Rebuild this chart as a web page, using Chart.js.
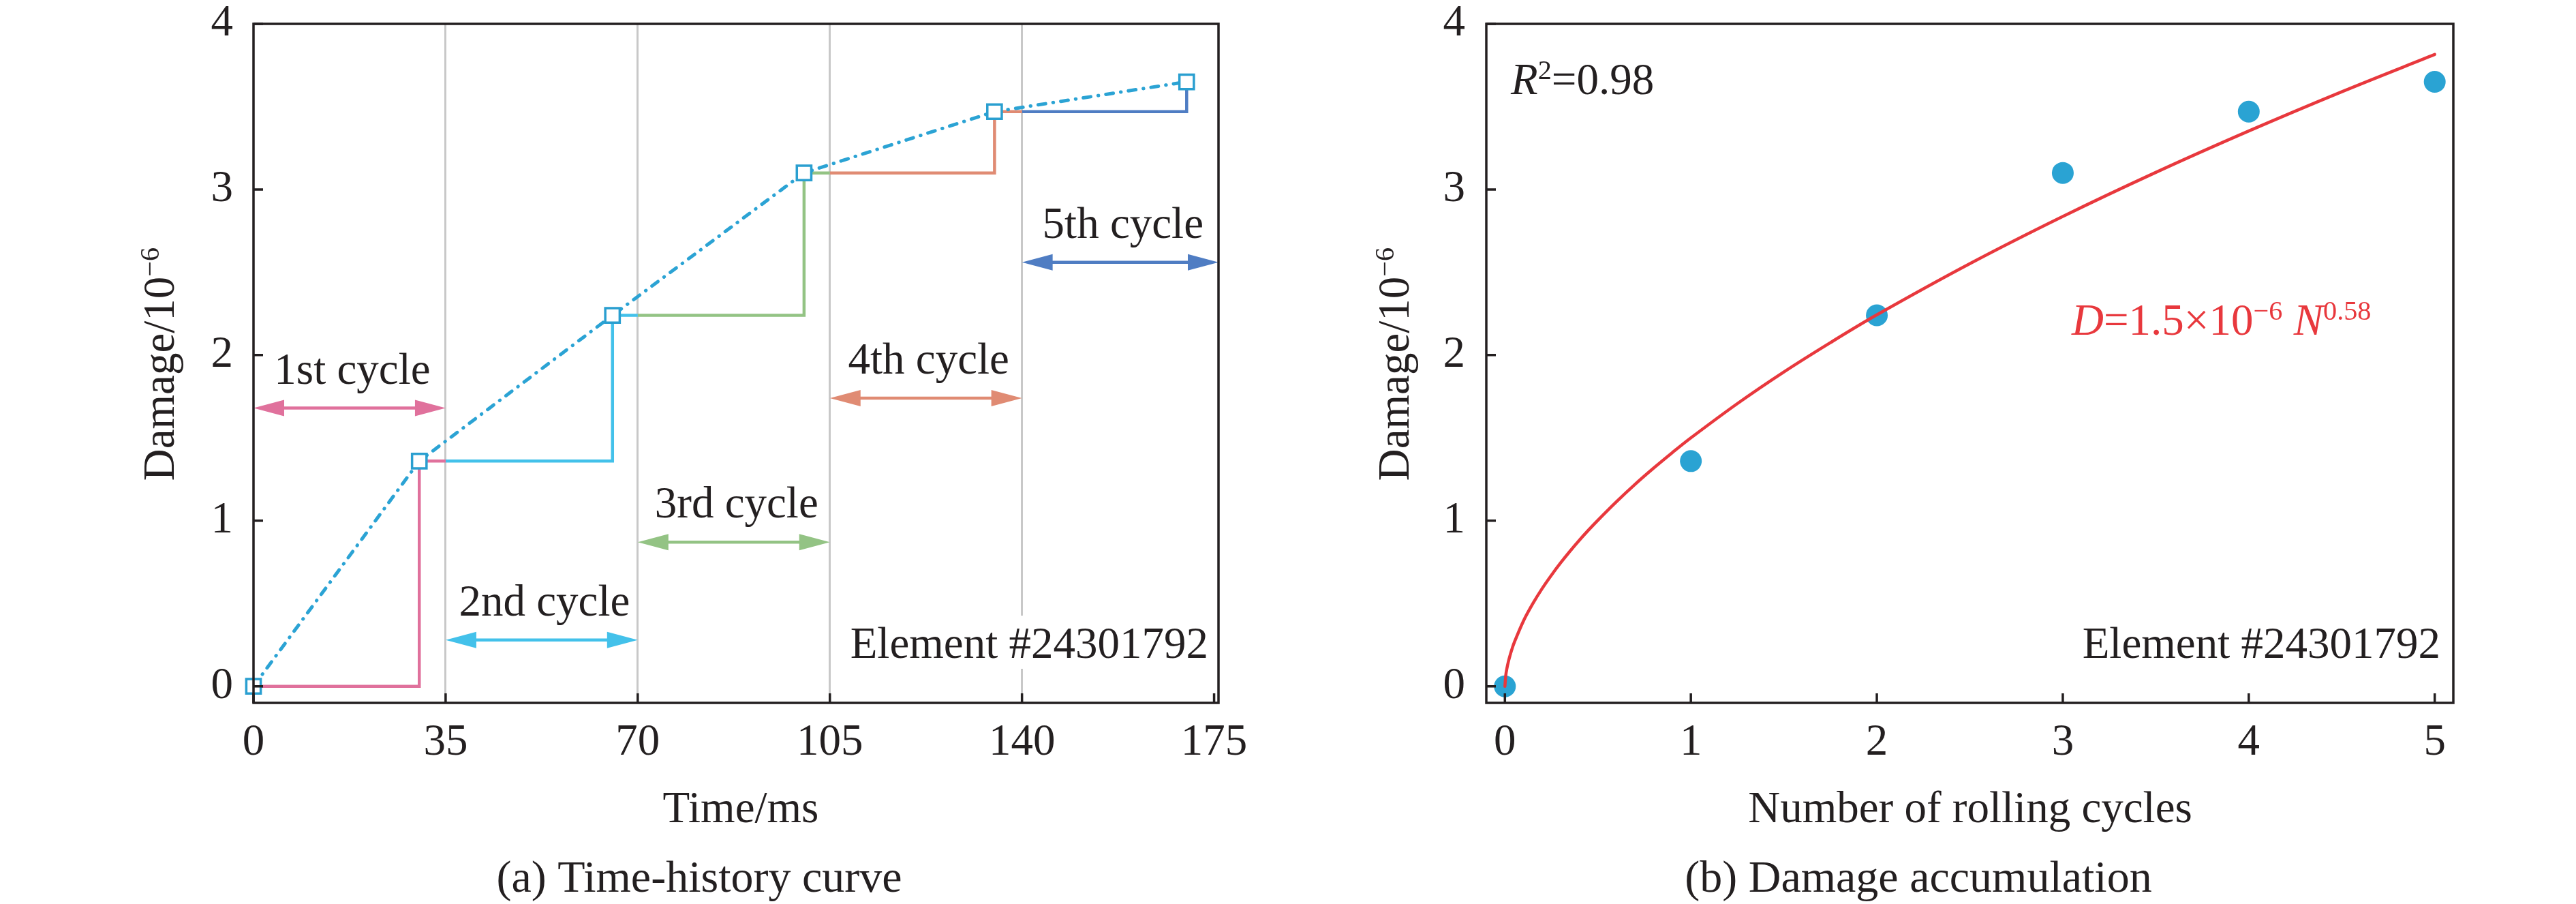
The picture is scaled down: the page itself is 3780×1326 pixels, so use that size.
<!DOCTYPE html>
<html>
<head>
<meta charset="utf-8">
<script src="https://cdn.jsdelivr.net/npm/chart.js@4.4.1/dist/chart.umd.min.js"></script>
<style>
  html, body { margin: 0; padding: 0; background: #fff; }
  #wrap { position: relative; width: 3780px; height: 1326px; background: #fff; }
  canvas { position: absolute; top: 0; }
  #chartA { left: 0; }
  #chartB { left: 1890px; }
</style>
</head>
<body>
<div id="wrap">
  <canvas id="chartA" width="1890" height="1326"></canvas>
  <canvas id="chartB" width="1890" height="1326"></canvas>
</div>
<script>
// --- values ---
// (a) time-history curve
const timeTicks = [0, 35, 70, 105, 140, 175];
const damageTicks = [0, 1, 2, 3, 4];
const cycleStart = [0, 35, 70, 105, 140];
const cycleEnd = [35, 70, 105, 140, 175.8];
const cycleBounds = [35, 70, 105, 140];
const markerTime = [0, 30.2, 65.4, 100.3, 135.0, 170.0];
const damage = [0, 1.36, 2.24, 3.10, 3.47, 3.65];
const cycleNames = ["1st cycle", "2nd cycle", "3rd cycle", "4th cycle", "5th cycle"];
const arrowY = [1.68, 0.28, 0.87, 1.74, 2.56];
const cycleColors = ["#e0719c", "#43c1ea", "#93c384", "#e08b73", "#4f7dc3"];

// (b) damage accumulation
const cycleNo = [0, 1, 2, 3, 4, 5];
const cycleTicks = [0, 1, 2, 3, 4, 5];
const fitN = [0, 0.005, 0.01, 0.02, 0.03, 0.04, 0.05, 0.1, 0.15, 0.2, 0.25, 0.3, 0.35, 0.4, 0.45, 0.5,
              0.6, 0.7, 0.8, 0.9, 1, 1.25, 1.5, 1.75, 2, 2.5, 3, 3.5, 4, 4.5, 5];
const fitD = [0, 0.069, 0.104, 0.155, 0.196, 0.232, 0.264, 0.395, 0.499, 0.590, 0.671, 0.746, 0.816, 0.882, 0.944, 1.003,
              1.115, 1.220, 1.318, 1.411, 1.500, 1.707, 1.898, 2.075, 2.243, 2.552, 2.837, 3.103, 3.353, 3.590, 3.815];

const TXT = "#231f20";
const FAM = "'Liberation Serif', 'Times New Roman', serif";
const RED = "#e8383d";

Chart.defaults.font.family = FAM;
Chart.defaults.font.size = 65;
Chart.defaults.color = TXT;

function font(size, italic) {
  return (italic ? "italic " : "") + size + "px " + FAM;
}

// text with italic / superscript pieces, y = baseline
function drawRich(ctx, parts, x, y, size, align, color) {
  let w = 0;
  parts.forEach(p => {
    ctx.font = font(p.sup ? size * 0.62 : size, p.it);
    w += ctx.measureText(p.t).width;
  });
  let cx = align === "center" ? x - w / 2 : align === "right" ? x - w : x;
  ctx.fillStyle = color;
  ctx.textAlign = "left";
  ctx.textBaseline = "alphabetic";
  parts.forEach(p => {
    ctx.font = font(p.sup ? size * 0.62 : size, p.it);
    ctx.fillText(p.t, cx, p.sup ? y - size * 0.34 : y);
    cx += ctx.measureText(p.t).width;
  });
  return w;
}

function yTitle(ctx, x, y) {
  ctx.save();
  ctx.translate(x, y);
  ctx.rotate(-Math.PI / 2);
  drawRich(ctx, [{ t: "Damage/10" }, { t: "\u22126", sup: true }], 0, 0, 65, "center", TXT);
  ctx.restore();
}

function frameAndTicks(chart) {
  const { ctx, chartArea: a, scales: { x, y } } = chart;
  ctx.save();
  ctx.strokeStyle = TXT;
  ctx.lineWidth = 3.5;
  ctx.strokeRect(a.left, a.top, a.right - a.left, a.bottom - a.top);
  ctx.beginPath();
  x.ticks.forEach(t => {
    const px = x.getPixelForValue(t.value);
    ctx.moveTo(px, a.bottom); ctx.lineTo(px, a.bottom - 14);
  });
  y.ticks.forEach(t => {
    const py = y.getPixelForValue(t.value);
    ctx.moveTo(a.left, py); ctx.lineTo(a.left + 14, py);
  });
  ctx.stroke();
  ctx.restore();
}

function elementLabel(ctx, a, gap) {
  ctx.save();
  ctx.font = font(65);
  const txt = "Element #24301792";
  const w = ctx.measureText(txt).width;
  const xr = a.right - gap, yb = a.bottom - 66;
  ctx.fillStyle = "#fff";
  ctx.fillRect(xr - w - 8, yb - 62, w + 12, 78);
  ctx.fillStyle = TXT;
  ctx.textAlign = "right";
  ctx.textBaseline = "alphabetic";
  ctx.fillText(txt, xr, yb);
  ctx.restore();
}

function arrow(ctx, x1, x2, y, color) {
  const hl = 45, hw = 12;
  ctx.strokeStyle = color;
  ctx.fillStyle = color;
  ctx.lineWidth = 4.5;
  ctx.beginPath(); ctx.moveTo(x1 + hl - 2, y); ctx.lineTo(x2 - hl + 2, y); ctx.stroke();
  ctx.beginPath(); ctx.moveTo(x1, y); ctx.lineTo(x1 + hl, y - hw); ctx.lineTo(x1 + hl, y + hw); ctx.closePath(); ctx.fill();
  ctx.beginPath(); ctx.moveTo(x2, y); ctx.lineTo(x2 - hl, y - hw); ctx.lineTo(x2 - hl, y + hw); ctx.closePath(); ctx.fill();
}

function fixedScales(yWidth, xHeight) {
  return {
    x: {
      afterFit(s) { s.height = xHeight; s.paddingLeft = 0; s.paddingRight = 0; }
    },
    y: {
      afterFit(s) { s.width = yWidth; s.paddingTop = 0; s.paddingBottom = 0; }
    }
  };
}

// --- (a) Time-history curve ---
const stepSets = cycleStart.map((s, i) => {
  const pts = [
    { x: s, y: damage[i] },
    { x: markerTime[i + 1], y: damage[i] },
    { x: markerTime[i + 1], y: damage[i + 1] }
  ];
  if (i < cycleBounds.length) pts.push({ x: cycleBounds[i], y: damage[i + 1] });
  return {
    data: pts, showLine: true, borderColor: cycleColors[i], borderWidth: 4.5,
    pointRadius: 0, tension: 0, order: 2, clip: false
  };
});

const fitA = fixedScales(372, 295);

const pluginA = {
  id: "decorA",
  afterDatasetsDraw(chart) {
    const { ctx, chartArea: a, scales: { x, y } } = chart;
    ctx.save();
    cycleNames.forEach((name, i) => {
      const x1 = x.getPixelForValue(cycleStart[i]);
      const x2 = x.getPixelForValue(cycleEnd[i]);
      const py = y.getPixelForValue(arrowY[i]);
      arrow(ctx, x1, x2, py, cycleColors[i]);
      ctx.font = font(65);
      ctx.fillStyle = TXT;
      ctx.textAlign = "center";
      ctx.textBaseline = "alphabetic";
      ctx.fillText(name, (x1 + x2) / 2 + 4, py - 36);
    });
    ctx.restore();
    elementLabel(ctx, a, 15);
  },
  afterDraw(chart) {
    const { ctx } = chart;
    frameAndTicks(chart);
    ctx.save();
    drawRich(ctx, [{ t: "Time/ms" }], 1087, 1206, 65, "center", TXT);
    drawRich(ctx, [{ t: "(a) Time-history curve" }], 1026, 1308, 66, "center", TXT);
    yTitle(ctx, 255, 534);
    ctx.restore();
  }
};

new Chart(document.getElementById("chartA"), {
  type: "scatter",
  data: {
    datasets: [
      {
        data: markerTime.map((t, i) => ({ x: t, y: damage[i] })),
        showLine: true,
        borderColor: "#2ba3d4",
        borderWidth: 5,
        borderDash: [11, 11, 0.5, 11],
        borderCapStyle: "round",
        pointStyle: "rect",
        pointRadius: 15,
        pointBorderWidth: 3.5,
        pointBackgroundColor: "#ffffff",
        pointBorderColor: "#2a9fd0",
        tension: 0,
        order: 1,
        clip: false
      },
      ...stepSets
    ]
  },
  options: {
    responsive: false,
    animation: false,
    devicePixelRatio: 1,
    events: [],
    layout: { padding: { left: 0, top: 35, right: 102, bottom: 0 } },
    plugins: { legend: { display: false }, tooltip: { enabled: false } },
    scales: {
      x: {
        type: "linear", min: 0, max: 175.8,
        afterBuildTicks(s) { s.ticks = timeTicks.map(v => ({ value: v })); },
        afterFit: fitA.x.afterFit,
        border: { display: false },
        grid: {
          drawTicks: false,
          lineWidth: 3,
          color: c => (c.tick && cycleBounds.includes(c.tick.value)) ? "#c8c8c8" : "rgba(0,0,0,0)"
        },
        ticks: { padding: 20, color: TXT, maxRotation: 0 }
      },
      y: {
        type: "linear", min: -0.1, max: 4,
        afterBuildTicks(s) { s.ticks = damageTicks.map(v => ({ value: v })); },
        afterFit: fitA.y.afterFit,
        border: { display: false },
        grid: { display: false, drawTicks: false },
        ticks: { padding: 30, color: TXT }
      }
    }
  },
  plugins: [pluginA]
});

// --- (b) Damage accumulation ---
const fitB = fixedScales(291, 295);

const pluginB = {
  id: "decorB",
  afterDatasetsDraw(chart) {
    const { ctx, chartArea: a } = chart;
    ctx.save();
    drawRich(ctx, [{ t: "R", it: true }, { t: "2", sup: true }, { t: "=0.98" }], a.left + 36, a.top + 103, 65, "left", TXT);
    drawRich(ctx, [
      { t: "D", it: true }, { t: "=1.5\u00d710" }, { t: "\u22126", sup: true },
      { t: " " }, { t: "N", it: true }, { t: "0.58", sup: true }
    ], a.left + 859, a.top + 456, 65, "left", RED);
    ctx.restore();
    elementLabel(ctx, a, 19);
  },
  afterDraw(chart) {
    const { ctx } = chart;
    frameAndTicks(chart);
    ctx.save();
    drawRich(ctx, [{ t: "Number of rolling cycles" }], 1001, 1206, 65, "center", TXT);
    drawRich(ctx, [{ t: "(b) Damage accumulation" }], 925, 1308, 66, "center", TXT);
    yTitle(ctx, 177, 534);
    ctx.restore();
  }
};

new Chart(document.getElementById("chartB"), {
  type: "scatter",
  data: {
    datasets: [
      {
        data: fitN.map((n, i) => ({ x: n, y: fitD[i] })),
        showLine: true,
        borderColor: RED,
        borderWidth: 4.5,
        borderCapStyle: "round",
        borderJoinStyle: "round",
        pointRadius: 0,
        tension: 0.35,
        order: 0
      },
      {
        data: cycleNo.map((n, i) => ({ x: n, y: damage[i] })),
        showLine: false,
        pointRadius: 16,
        pointBorderWidth: 0,
        pointBackgroundColor: "#2aa3d3",
        order: 1,
        clip: false
      }
    ]
  },
  options: {
    responsive: false,
    animation: false,
    devicePixelRatio: 1,
    events: [],
    layout: { padding: { left: 0, top: 35, right: 180, bottom: 0 } },
    plugins: { legend: { display: false }, tooltip: { enabled: false } },
    scales: {
      x: {
        type: "linear", min: -0.1, max: 5.1,
        afterBuildTicks(s) { s.ticks = cycleTicks.map(v => ({ value: v })); },
        afterFit: fitB.x.afterFit,
        border: { display: false },
        grid: { display: false, drawTicks: false },
        ticks: { padding: 20, color: TXT, maxRotation: 0 }
      },
      y: {
        type: "linear", min: -0.1, max: 4,
        afterBuildTicks(s) { s.ticks = damageTicks.map(v => ({ value: v })); },
        afterFit: fitB.y.afterFit,
        border: { display: false },
        grid: { display: false, drawTicks: false },
        ticks: { padding: 31, color: TXT }
      }
    }
  },
  plugins: [pluginB]
});
</script>
</body>
</html>
